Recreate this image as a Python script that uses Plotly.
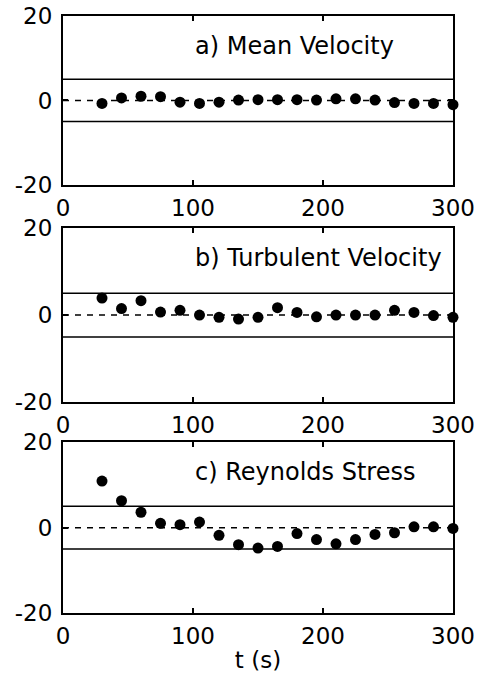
import plotly.graph_objects as go

# Sample times (s)
t = [30, 45, 60, 75, 90, 105, 120, 135, 150, 165, 180, 195, 210, 225, 240, 255, 270, 285, 300]

# Normalised deviations for each quantity
mean_velocity = [-0.7, 0.6, 1.0, 0.9, -0.4, -0.7, -0.4, 0.1, 0.2, 0.2, 0.2, 0.1, 0.4, 0.4, 0.1, -0.5, -0.7, -0.7, -1.0]
turbulent_velocity = [3.9, 1.5, 3.3, 0.7, 1.1, 0.0, -0.5, -0.9, -0.5, 1.7, 0.6, -0.4, 0.0, 0.0, 0.0, 1.1, 0.6, -0.1, -0.5]
reynolds_stress = [10.9, 6.3, 3.6, 1.0, 0.7, 1.3, -1.8, -4.0, -4.8, -4.4, -1.4, -2.8, -3.8, -2.8, -1.6, -1.2, 0.2, 0.2, -0.2]

panel_titles = ["a) Mean Velocity", "b) Turbulent Velocity", "c) Reynolds Stress"]
panel_series = [mean_velocity, turbulent_velocity, reynolds_stress]

x_ticks = [0, 100, 200, 300]
x_ticktext = ["0", "100", "200", "300"]
y_ticks = [-20, 0, 20]
y_ticktext = ["-20", "0", "20"]
band = 5
x_range = [0, 300]
y_range = [-20, 20]

FONT = "DejaVu Sans"
domains = [[0.717, 1.0], [0.353, 0.645], [0.0, 0.286]]

fig = go.Figure()
layout = {}
for i, (title, vals, dom) in enumerate(zip(panel_titles, panel_series, domains)):
    n = "" if i == 0 else str(i + 1)
    xa, ya = "x" + n, "y" + n
    # zero reference (dashed) and +/- band limits (solid)
    fig.add_trace(go.Scatter(x=x_range, y=[0, 0], mode="lines", xaxis=xa, yaxis=ya,
                             line=dict(color="black", width=1.5, dash="6px,6px"),
                             showlegend=False, hoverinfo="skip"))
    for lvl in (band, -band):
        fig.add_trace(go.Scatter(x=x_range, y=[lvl, lvl], mode="lines", xaxis=xa, yaxis=ya,
                                 line=dict(color="black", width=1.5),
                                 showlegend=False, hoverinfo="skip"))
    fig.add_trace(go.Scatter(x=t, y=vals, mode="markers", xaxis=xa, yaxis=ya,
                             marker=dict(color="black", size=11),
                             cliponaxis=False, showlegend=False))
    axis_common = dict(showline=True, linewidth=2, linecolor="black", mirror="ticks",
                       ticks="inside", ticklen=5, tickwidth=1.5, tickcolor="black",
                       showgrid=False, zeroline=False, automargin=False,
                       tickfont=dict(family=FONT, size=23, color="black"))
    layout["xaxis" + n] = dict(axis_common, range=x_range, tickvals=x_ticks, ticktext=x_ticktext,
                               anchor=ya, domain=[0, 1], ticklabelstandoff=1)
    layout["yaxis" + n] = dict(axis_common, range=y_range, tickvals=y_ticks, ticktext=y_ticktext,
                               anchor=xa, domain=dom, ticklabelstandoff=4)
    fig.add_annotation(x=100, y=13, xref=xa, yref=ya, text=title, showarrow=False,
                       xanchor="left", yanchor="middle",
                       font=dict(family=FONT, size=24, color="black"))

layout["xaxis3"]["title"] = dict(text="t (s)", font=dict(family=FONT, size=23, color="black"),
                                 standoff=4)

fig.update_layout(**layout)
fig.update_layout(width=478, height=678, margin=dict(l=63, r=25, t=16, b=65),
                  paper_bgcolor="white", plot_bgcolor="white",
                  font=dict(family=FONT, color="black"))

fig.write_html("out.html")
